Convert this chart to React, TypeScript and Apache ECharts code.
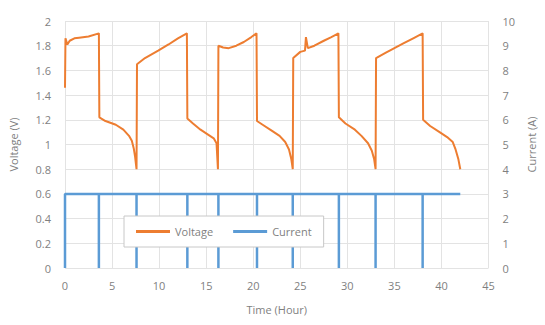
import React, { useEffect, useRef } from "react";
import * as echarts from "echarts";

const voltageTime: number[] = [
  0, 0.05, 0.25, 0.5, 1.0, 1.5, 2.5, 3.6,
  3.65, 4.3, 5.4, 6.2, 6.8, 7.1, 7.3, 7.45, 7.6,
  7.65, 8.5, 9.9, 11.0, 12.0, 12.95,
  13.0, 13.6, 14.4, 15.2, 15.8, 16.1, 16.25,
  16.3, 16.8, 17.4, 18.2, 19.0, 19.8, 20.35,
  20.4, 21.0, 22.0, 22.8, 23.4, 23.8, 24.05, 24.2,
  24.25, 25.0, 25.5, 25.6, 25.8, 26.5, 27.5, 28.3, 29.05,
  29.1, 29.8, 30.8, 31.5, 32.2, 32.6, 32.85, 33.0,
  33.05, 34.0, 35.0, 36.0, 37.0, 38.0,
  38.05, 38.8, 39.8, 40.6, 41.2, 41.5, 41.8, 42.0,
];
const voltageValues: number[] = [
  1.46, 1.86, 1.81, 1.84, 1.86, 1.865, 1.875, 1.9,
  1.22, 1.19, 1.16, 1.12, 1.07, 1.03, 0.97, 0.9, 0.8,
  1.65, 1.7, 1.76, 1.81, 1.86, 1.9,
  1.21, 1.17, 1.12, 1.08, 1.05, 1.01, 0.8,
  1.8, 1.785, 1.78, 1.8, 1.83, 1.87, 1.9,
  1.19, 1.16, 1.11, 1.07, 1.02, 0.96, 0.88, 0.8,
  1.7, 1.75, 1.76, 1.87, 1.78, 1.8, 1.84, 1.87, 1.9,
  1.22, 1.17, 1.12, 1.07, 1.01, 0.95, 0.88, 0.8,
  1.7, 1.74, 1.78, 1.82, 1.86, 1.9,
  1.2, 1.15, 1.1, 1.06, 1.02, 0.96, 0.88, 0.8,
];

const switchTimes: number[] = [3.6, 7.6, 13.0, 16.3, 20.4, 24.2, 29.1, 33.0, 38.0];
const currentEnd = 42.0;
const currentLevel = 3;

const xTicks = { min: 0, max: 45, interval: 5 };
const vTicks = { min: 0, max: 2, interval: 0.2 };
const aTicks = { min: 0, max: 10, interval: 1 };

const FONT = "'Open Sans', 'Noto Sans', sans-serif";
const GREY = "#7f7f7f";

export default function App() {
  const ref = useRef<HTMLDivElement>(null);
  useEffect(() => {
    if (!ref.current) return;
    const chart = echarts.init(ref.current, undefined, { renderer: "svg" });

    const voltageData = voltageTime.map((t, i) => [t, voltageValues[i]]);
    const currentData: number[][] = [[0, 0], [0, currentLevel]];
    switchTimes.forEach((t) => {
      currentData.push([t, currentLevel], [t, 0], [t, currentLevel]);
    });
    currentData.push([currentEnd, currentLevel]);

    const axisLabel = { color: GREY, fontSize: 11, fontFamily: FONT };
    const nameStyle = { color: GREY, fontSize: 11, fontFamily: FONT };
    const split = { show: true, lineStyle: { color: "#e3e3e3", width: 1 } };

    chart.setOption({
      animation: false,
      grid: { left: 65, right: 48, top: 21, bottom: 57 },
      legend: {
        left: 124,
        top: 216,
        padding: [10, 12],
        itemWidth: 34,
        itemHeight: 3,
        itemGap: 20,
        borderColor: "#c8c8c8",
        borderWidth: 1,
        backgroundColor: "#ffffff",
        textStyle: { color: GREY, fontSize: 11, fontFamily: FONT },
        data: [
          { name: "Voltage", icon: "rect" },
          { name: "Current", icon: "rect" },
        ],
      },
      xAxis: {
        type: "value",
        ...xTicks,
        name: "Time (Hour)",
        nameLocation: "middle",
        nameGap: 36,
        nameTextStyle: nameStyle,
        axisLine: { show: false },
        axisTick: { show: false },
        axisLabel: { ...axisLabel, margin: 12 },
        splitLine: split,
      },
      yAxis: [
        {
          type: "value",
          ...vTicks,
          name: "Voltage (V)",
          nameLocation: "middle",
          nameRotate: 90,
          nameGap: 46,
          nameTextStyle: nameStyle,
          axisLine: { show: false },
          axisTick: { show: false },
          axisLabel: { ...axisLabel, margin: 14, formatter: (v: number) => String(Math.round(v * 10) / 10) },
          splitLine: split,
        },
        {
          type: "value",
          ...aTicks,
          position: "right",
          name: "Current (A)",
          nameLocation: "middle",
          nameRotate: 90,
          nameGap: 32,
          nameTextStyle: nameStyle,
          axisLine: { show: false },
          axisTick: { show: false },
          axisLabel: { ...axisLabel, margin: 14 },
          splitLine: { show: false },
        },
      ],
      series: [
        {
          name: "Voltage",
          type: "line",
          yAxisIndex: 0,
          data: voltageData,
          showSymbol: false,
          symbol: "none",
          lineStyle: { color: "#ED7D31", width: 2 },
          itemStyle: { color: "#ED7D31" },
          z: 3,
        },
        {
          name: "Current",
          type: "line",
          yAxisIndex: 1,
          data: currentData,
          showSymbol: false,
          symbol: "none",
          lineStyle: { color: "#5B9BD5", width: 2.5 },
          itemStyle: { color: "#5B9BD5" },
          z: 2,
        },
      ],
    });
    return () => chart.dispose();
  }, []);

  return <div ref={ref} style={{ width: 545, height: 325, position: "absolute", left: 0, top: 0 }} />;
}
